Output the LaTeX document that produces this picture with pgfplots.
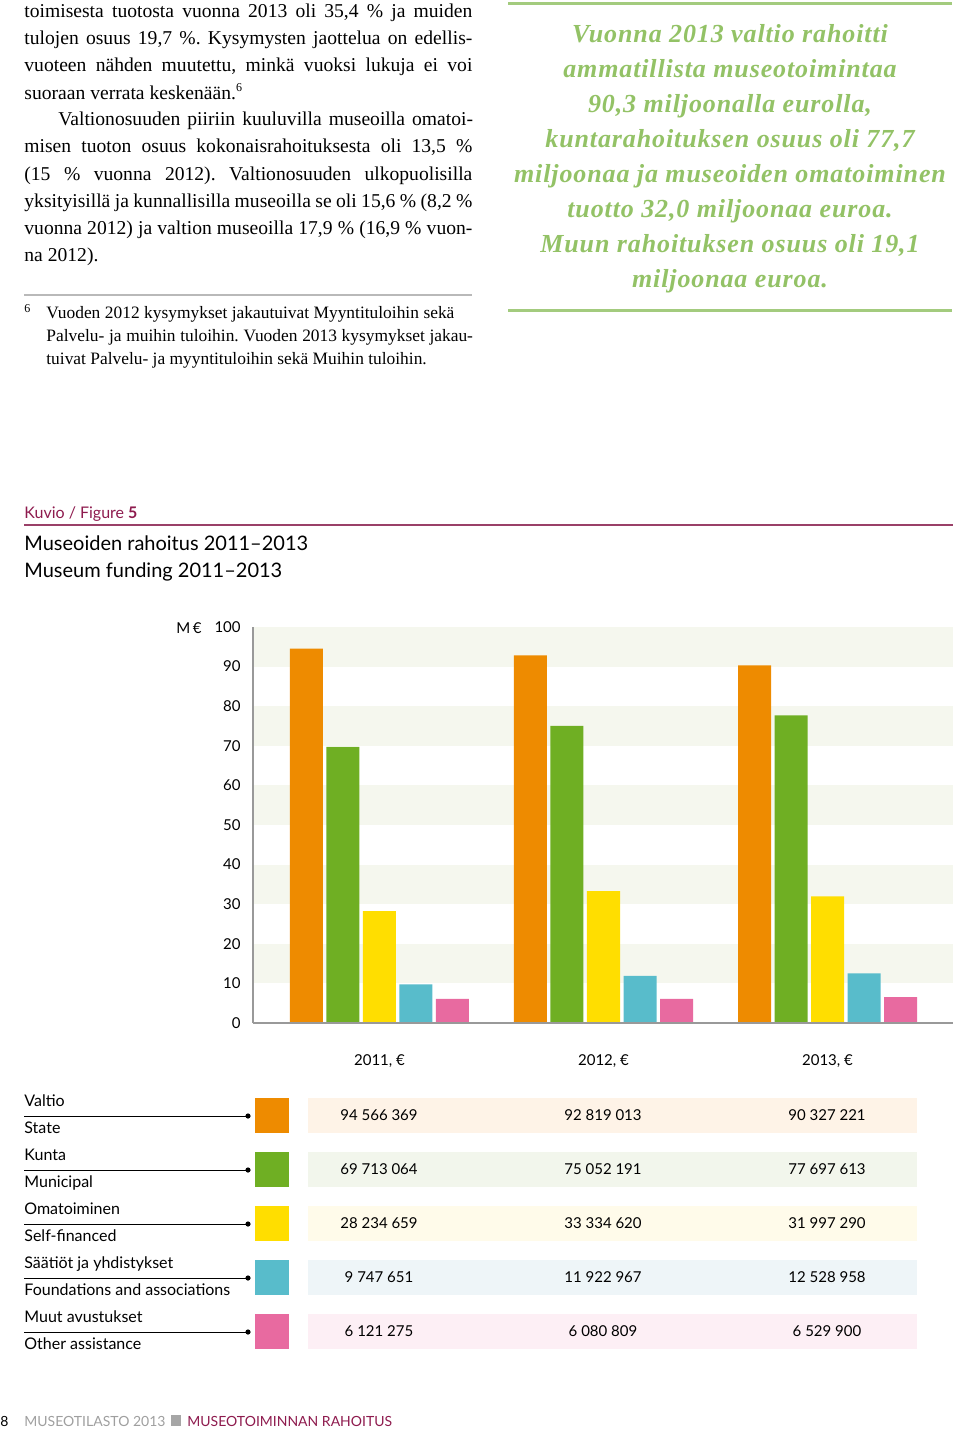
\documentclass[border=0pt]{standalone}
\usepackage{pgfplots}
\pgfplotsset{compat=1.18}
\usepackage{fontspec}
\setmainfont{Liberation Serif}
\newfontfamily\fut{Lato}
\newfontfamily\qfont{Liberation Serif}[LetterSpace=3.4]
\definecolor{corange}{HTML}{EE8B00}
\definecolor{cgreen}{HTML}{6FAF23}
\definecolor{cyellow}{HTML}{FFDE00}
\definecolor{ccyan}{HTML}{58BCCB}
\definecolor{cpink}{HTML}{E86AA0}
\definecolor{band}{HTML}{F5F7EE}
\definecolor{torange}{HTML}{FEF3E7}
\definecolor{tgreen}{HTML}{F2F6EC}
\definecolor{tyellow}{HTML}{FFFBEA}
\definecolor{tcyan}{HTML}{EEF5F8}
\definecolor{tpink}{HTML}{FDEFF5}
\definecolor{qgreen}{HTML}{93C266}
\definecolor{rgreen}{HTML}{A3CB7E}
\definecolor{mag}{HTML}{8E1B4E}
\definecolor{magrule}{HTML}{9A4068}
\newcommand{\body}{\fontsize{9.8}{12}\selectfont}
\newcommand{\fn}{\fontsize{8.7}{11}\selectfont}
\frenchspacing
\begin{document}
\begin{tikzpicture}
\useasboundingbox (0,0) rectangle (480pt,-717pt);
\begin{scope}[x=0.5pt,y=-0.5pt]
% body text
\def\jl#1#2#3#4{\node[anchor=base west,inner sep=0pt] at (#1,#2) {\body\hbox to #3{#4}};}
\def\nl#1#2#3{\node[anchor=base west,inner sep=0pt] at (#1,#2) {\body #3};}
\jl{24}{18}{224pt}{toimisesta tuotosta vuonna 2013 oli 35,4 \% ja muiden}
\jl{24}{45}{224pt}{tulojen osuus 19,7 \%. Kysymysten jaottelua on edellis-}
\jl{24}{72}{224pt}{vuoteen nähden muutettu, minkä vuoksi lukuja ei voi}
\nl{24}{99}{suoraan verrata keskenään.\textsuperscript{\fontsize{6}{7}\selectfont 6}}
\jl{58}{126}{207.3pt}{Valtionosuuden piiriin kuuluvilla museoilla omatoi-}
\jl{24}{153}{224pt}{misen tuoton osuus kokonaisrahoituksesta oli 13,5 \%}
\jl{24}{180}{224pt}{(15 \% vuonna 2012). Valtionosuuden ulkopuolisilla}
\jl{24}{207}{224pt}{yksityisillä ja kunnallisilla museoilla se oli 15,6 \% (8,2 \%}
\jl{24}{234}{224pt}{vuonna 2012) ja valtion museoilla 17,9 \% (16,9 \% vuon-}
\nl{24}{261}{na 2012).}
\draw[gray!55,line width=1pt] (24,295) -- (472,295);
\node[anchor=base west,inner sep=0pt] at (24,312) {\fontsize{6}{7}\selectfont 6};
\node[anchor=base west,inner sep=0pt] at (46,318) {\fn\hbox to 204pt{Vuoden 2012 kysymykset jakautuivat Myyntituloihin sekä}};
\node[anchor=base west,inner sep=0pt] at (46,341) {\fn\hbox to 213.3pt{Palvelu- ja muihin tuloihin. Vuoden 2013 kysymykset jakau-}};
\node[anchor=base west,inner sep=0pt] at (46,364) {\fn tuivat Palvelu- ja myyntituloihin sekä Muihin tuloihin.};
% pull quote
\draw[rgreen,line width=1.5pt] (508,4) -- (952,4);
\draw[rgreen,line width=1.5pt] (508,310) -- (952,310);
\foreach \t/\y in {{Vuonna 2013 valtio rahoitti}/43,{ammatillista museotoimintaa}/77.9,{90,3 miljoonalla eurolla,}/112.8,{kuntarahoituksen osuus oli 77,7}/147.7,{miljoonaa ja museoiden omatoiminen}/182.6,{tuotto 32,0 miljoonaa euroa.}/217.5,{Muun rahoituksen osuus oli 19,1}/252.4,{miljoonaa euroa.}/287.3}
  \node[anchor=base,inner sep=0pt,text=qgreen] at (730,\y) {\qfont\bfseries\itshape\fontsize{13}{15}\selectfont \t};
% caption
\node[anchor=base west,inner sep=0pt,text=mag] at (24,518) {\fut\fontsize{8}{10}\selectfont Kuvio / Figure \textbf{5}};
\draw[magrule,line width=1pt] (24,525) -- (953,525);
\node[anchor=base west,inner sep=0pt] at (24,550) {\fut\fontsize{10}{12}\selectfont Museoiden rahoitus 2011–2013};
\node[anchor=base west,inner sep=0pt] at (24,577) {\fut\fontsize{10}{12}\selectfont Museum funding 2011–2013};
\node[inner sep=0pt] at (189,628) {\fut\fontsize{7.5}{9}\selectfont M\,€};
% legend and table
\foreach \a/\b/\c/\t/\L/\va/\vb/\vc in {
  Valtio/State/corange/torange/1116/94 566 369/92 819 013/90 327 221,
  Kunta/Municipal/cgreen/tgreen/1170/69 713 064/75 052 191/77 697 613,
  Omatoiminen/Self-financed/cyellow/tyellow/1224/28 234 659/33 334 620/31 997 290,
  Säätiöt ja yhdistykset/Foundations and associations/ccyan/tcyan/1278/9 747 651/11 922 967/12 528 958,
  Muut avustukset/Other assistance/cpink/tpink/1332/6 121 275/6 080 809/6 529 900}{
  \draw[black,line width=0.5pt] (24,\L) -- (248,\L);
  \fill[black] (248,\L) circle (1.3pt);
  \node[anchor=base west,inner sep=0pt] at (24,\L-9.5) {\fut\fontsize{8}{10}\selectfont \a};
  \node[anchor=base west,inner sep=0pt] at (24,\L+17) {\fut\fontsize{8}{10}\selectfont \b};
  \fill[\c] (255,\L-18) rectangle (289,\L+17);
  \fill[\t] (308,\L-18) rectangle (917,\L+17);
  \node[anchor=base,inner sep=0pt] at (379,\L+4) {\fut\fontsize{7.5}{9}\selectfont \va};
  \node[anchor=base,inner sep=0pt] at (603,\L+4) {\fut\fontsize{7.5}{9}\selectfont \vb};
  \node[anchor=base,inner sep=0pt] at (827,\L+4) {\fut\fontsize{7.5}{9}\selectfont \vc};
}
% footer
\node[anchor=base west,inner sep=0pt] at (0,1426) {\fut\fontsize{7}{9}\selectfont 8};
\node[anchor=base west,inner sep=0pt,text=gray!75] at (24,1426) {\fut\fontsize{7}{9}\selectfont MUSEOTILASTO 2013};
\fill[gray!70] (171,1415) rectangle (181,1426);
\node[anchor=base west,inner sep=0pt,text=mag] at (187,1426) {\fut\fontsize{7}{9}\selectfont MUSEOTOIMINNAN RAHOITUS};
\end{scope}
\begin{axis}[
  at={(126.5pt,-511.5pt)}, anchor=south west,
  scale only axis, width=350pt, height=198pt,
  xmin=-0.5647, xmax=2.5603, ymin=0, ymax=100,
  axis on top,
  axis lines=left, axis line style={-, draw=gray!80, line width=0.75pt},
  ytick={0,10,...,100}, xtick={0,1,2},
  xticklabels={{2011, €},{2012, €},{2013, €}},
  major tick length=0pt,
  ybar, bar width=16.5pt,
  tick label style={font=\fut\fontsize{7.5}{9}\selectfont},
  /pgf/number format/assume math mode=true,
  yticklabel style={anchor=east, inner sep=0pt, xshift=-6pt},
  xticklabel style={anchor=center, inner sep=0pt, yshift=-19pt},
]
\fill[band] (rel axis cs:0,0.1) rectangle (rel axis cs:1,0.2);
\fill[band] (rel axis cs:0,0.3) rectangle (rel axis cs:1,0.4);
\fill[band] (rel axis cs:0,0.5) rectangle (rel axis cs:1,0.6);
\fill[band] (rel axis cs:0,0.7) rectangle (rel axis cs:1,0.8);
\fill[band] (rel axis cs:0,0.9) rectangle (rel axis cs:1,1.0);
\addplot[fill=corange, draw=none, bar shift=-36.5pt] coordinates {(0,94.566) (1,92.819) (2,90.327)};
\addplot[fill=cgreen, draw=none, bar shift=-18.25pt] coordinates {(0,69.713) (1,75.052) (2,77.698)};
\addplot[fill=cyellow, draw=none, bar shift=0pt] coordinates {(0,28.235) (1,33.335) (2,31.997)};
\addplot[fill=ccyan, draw=none, bar shift=18.25pt] coordinates {(0,9.748) (1,11.923) (2,12.529)};
\addplot[fill=cpink, draw=none, bar shift=36.5pt] coordinates {(0,6.121) (1,6.081) (2,6.530)};
\end{axis}
\end{tikzpicture}
\end{document}
